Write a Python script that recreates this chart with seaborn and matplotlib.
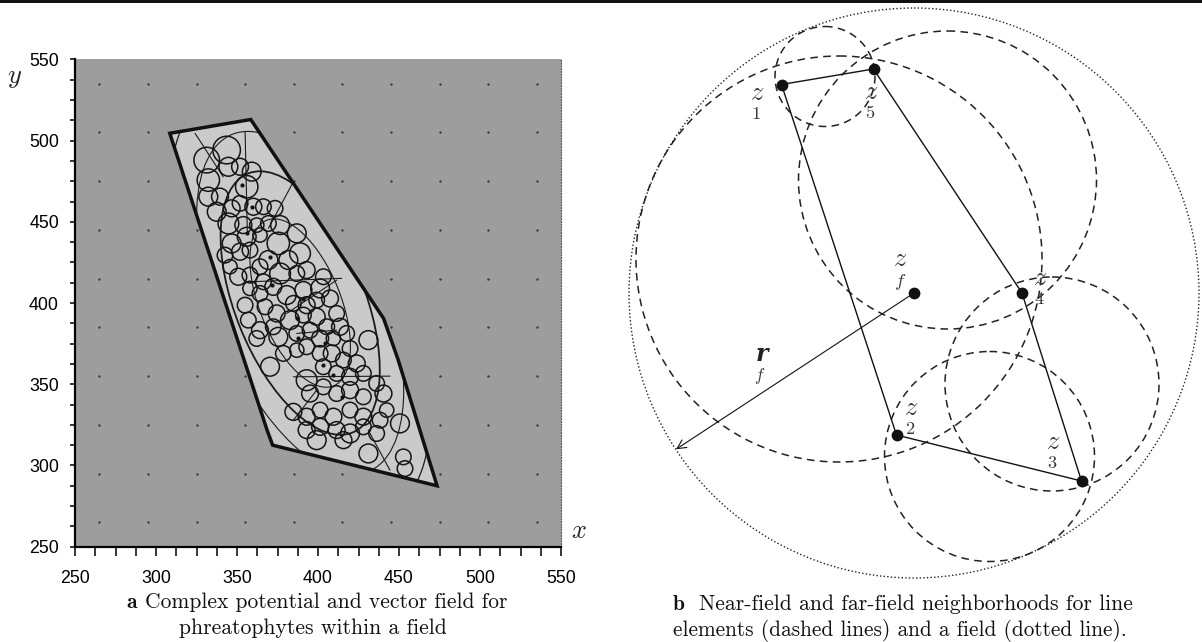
import numpy as np
import pandas as pd
import matplotlib
matplotlib.use("Agg")
import matplotlib.pyplot as plt
import seaborn as sns
from matplotlib.patches import Polygon, Circle, Ellipse, Rectangle
from matplotlib.ticker import MultipleLocator
from matplotlib.mathtext import MathTextParser
from matplotlib.font_manager import FontProperties

# ---------------- panel a data ----------------
x_ticks = [250, 300, 350, 400, 450, 500, 550]
y_ticks = [250, 300, 350, 400, 450, 500, 550]
grid_x = [265, 295, 325, 355, 385, 415, 445, 475, 505, 535]
grid_y = [265, 295, 325, 355, 385, 415, 445, 475, 505, 535]

field_x = [308.5, 358.5, 440.5, 449.5, 473.5, 372.0, 368.5]
field_y = [504.5, 513.0, 390.5, 365.0, 287.5, 312.5, 322.0]

tree_x = [343.6, 331.3, 332.3, 344.7, 351.9, 359.1, 356.0, 332.3, 339.5, 337.5,
          346.7, 351.9, 360.1, 366.3, 373.5, 344.7, 353.9, 362.2, 369.4, 376.6,
          346.7, 356.0, 364.2, 375.5, 386.9, 342.6, 351.9, 358.0, 369.4, 381.7,
          388.9, 345.7, 350.8, 358.0, 364.2, 366.3, 376.6, 386.9, 393.0, 358.0,
          364.2, 372.4, 380.7, 391.0, 401.3, 403.3, 355.0, 367.3, 374.5, 384.8,
          393.0, 399.2, 407.4, 411.5, 357.0, 364.2, 372.4, 382.7, 391.0, 399.2,
          405.4, 413.6, 417.7, 362.2, 375.5, 386.9, 395.1, 401.3, 409.5, 419.8,
          431.1, 370.4, 378.6, 386.9, 393.0, 401.3, 408.5, 415.7, 423.9, 393.0,
          403.3, 411.5, 419.8, 428.0, 436.2, 384.8, 395.1, 403.3, 411.5, 419.8,
          428.0, 440.4, 442.4, 393.0, 401.3, 409.5, 419.8, 428.0, 438.3, 393.0,
          401.3, 411.5, 419.8, 428.0, 399.2, 415.7, 436.2, 450.6, 431.1, 452.7,
          453.7]
tree_y = [494.2, 488.0, 475.7, 483.9, 483.9, 480.9, 471.6, 465.5, 465.5, 456.2,
          458.3, 461.4, 459.3, 459.3, 458.3, 449.0, 448.0, 448.0, 449.0, 448.0,
          436.7, 440.8, 441.9, 436.7, 442.9, 429.5, 431.6, 432.6, 426.5, 426.5,
          430.6, 422.4, 416.2, 417.2, 422.4, 413.1, 418.2, 418.2, 420.3, 409.0,
          405.9, 410.0, 404.9, 408.0, 409.0, 416.2, 398.7, 397.7, 393.6, 399.8,
          398.7, 401.8, 402.8, 393.6, 389.5, 383.3, 385.4, 389.5, 392.6, 391.6,
          385.4, 385.4, 381.3, 378.2, 379.2, 381.3, 383.3, 378.2, 378.2, 372.0,
          377.2, 360.8, 369.0, 371.0, 373.1, 369.0, 369.0, 364.9, 362.8, 352.5,
          360.8, 356.7, 354.6, 356.7, 350.5, 333.0, 344.3, 348.4, 344.3, 346.4,
          342.3, 344.3, 334.1, 330.0, 334.1, 330.0, 334.1, 330.0, 327.9, 321.8,
          323.8, 321.8, 319.7, 323.8, 315.6, 315.6, 319.7, 325.9, 307.4, 305.3,
          298.1]
tree_r = [8.5, 7.9, 6.9, 5.8, 5.2, 5.8, 6.9, 5.8, 5.2, 5.8,
          5.2, 4.8, 5.2, 4.8, 4.8, 6.4, 5.2, 4.4, 4.8, 5.8,
          5.8, 5.8, 4.4, 6.9, 5.8, 4.8, 5.2, 4.8, 5.8, 5.8,
          6.4, 4.4, 5.2, 4.8, 4.8, 4.8, 6.4, 4.8, 5.2, 4.4,
          4.8, 5.2, 5.8, 5.2, 5.8, 4.8, 4.8, 4.8, 5.2, 4.8,
          5.2, 4.8, 5.2, 4.8, 4.8, 5.2, 4.8, 5.8, 4.8, 5.2,
          4.8, 5.2, 4.8, 4.8, 5.8, 4.8, 4.8, 5.2, 4.4, 4.8,
          5.8, 5.8, 4.8, 4.4, 4.8, 4.8, 5.2, 4.8, 5.2, 6.4,
          4.8, 4.8, 5.2, 4.8, 4.8, 5.2, 5.2, 4.8, 4.8, 5.2,
          4.8, 5.2, 4.4, 5.2, 4.8, 5.2, 4.8, 5.2, 4.8, 5.2,
          5.2, 5.2, 5.8, 4.8, 5.8, 5.2, 4.8, 5.8, 5.8, 4.8,
          4.8]

contour_center = (389.0, 400.0)
contour_angle = 112.0
contour_a = [55, 86, 112, 140, 175]
contour_b = [25, 40, 52, 66, 84]
contour_lw = [0.8, 1.3, 0.8, 0.9, 0.8]

stream_x0 = [355.0, 324.1, 369.4, 358.0, 380.7, 384.8, 386.9, 384.8, 431.0]
stream_y0 = [505.5, 504.5, 446.0, 413.1, 393.6, 354.6, 381.3, 327.9, 321.8]
stream_x1 = [356.4, 341.5, 384.8, 414.6, 411.5, 444.5, 411.5, 399.2, 444.4]
stream_y1 = [442.9, 477.7, 474.7, 415.2, 414.1, 355.0, 383.3, 346.4, 297.1]

arrow_x = [352.9, 359.1, 356.0, 370.4, 371.4, 391.0, 386.9, 387.9, 404.3, 403.3, 409.1, 414.6]
arrow_y = [472.6, 459.3, 442.9, 428.5, 411.1, 402.8, 390.5, 378.2, 375.1, 361.8, 355.6, 342.3]

# ---------------- panel b data ----------------
node_names = ["1", "2", "3", "4", "5"]
node_x = [781.5, 896.5, 1081.5, 1022.0, 873.5]
node_y = [84.5, 435.0, 481.0, 293.0, 69.0]
node_lbl_x = [757.0, 911.0, 1053.5, 1040.0, 871.0]
node_lbl_y = [97.0, 411.5, 445.0, 281.5, 96.0]
node_sub_dy = [14.0, 15.0, 15.0, 16.0, 14.0]

zf_x, zf_y = 914.0, 293.0
zf_lbl = (900.5, 265.5)
rf_tip = (676.0, 449.3)
rf_lbl = (762.0, 355.0)

near_cx = [825.0, 839.0, 947.5, 1052.0, 989.5]
near_cy = [76.5, 259.0, 180.0, 384.0, 456.5]
near_r = [50.0, 203.0, 149.0, 107.0, 105.0]
far_r = 285.0

# ---------------- figure ----------------
W, H = 1202, 642
sns.set_theme(style="white")
plt.rcParams['font.family'] = ['Liberation Sans', 'DejaVu Sans']
plt.rcParams['mathtext.fontset'] = 'cm'
fig = plt.figure(figsize=(W / 100, H / 100), dpi=100)
fig.patch.set_facecolor("white")

def fx(px):
    return px / W

def fy(py):
    return 1 - py / H

# top rule
fig.add_artist(Rectangle((0, fy(3.2)), 1, 3.2 / H, transform=fig.transFigure,
                         color="#111111", lw=0))

# ---- panel a ----
ax1 = fig.add_axes([fx(75), fy(546.7), 486 / W, 487.3 / H])
ax1.set_facecolor("#9d9d9d")
ax1.set_xlim(250, 550)
ax1.set_ylim(250, 550)

gx, gy = np.meshgrid(grid_x, grid_y)
sns.scatterplot(x=gx.ravel(), y=gy.ravel(), ax=ax1, color="#3a3a3a", s=3,
                linewidth=0, zorder=1, legend=False)

poly_pts = np.column_stack([field_x, field_y])
fill = Polygon(poly_pts, closed=True, facecolor="#cacaca", edgecolor="none", zorder=2)
ax1.add_patch(fill)

for a, b, lw in zip(contour_a, contour_b, contour_lw):
    e = Ellipse(contour_center, 2 * a, 2 * b, angle=contour_angle, fill=False,
                edgecolor="#1c1c1c", lw=lw, zorder=3)
    ax1.add_patch(e)
    e.set_clip_path(fill)

for x0, y0, x1, y1 in zip(stream_x0, stream_y0, stream_x1, stream_y1):
    ln, = ax1.plot([x0, x1], [y0, y1], color="#1c1c1c", lw=0.8, zorder=3)
    ln.set_clip_path(fill)

for cx, cy, r in zip(tree_x, tree_y, tree_r):
    ax1.add_patch(Circle((cx, cy), r, fill=False, edgecolor="#151515", lw=1.1, zorder=4))

sns.scatterplot(x=arrow_x, y=arrow_y, ax=ax1, color="#111111", s=9, marker="o",
                linewidth=0, zorder=5, legend=False)

border = Polygon(poly_pts, closed=True, facecolor="none", edgecolor="#111111",
                 lw=2.5, joinstyle="miter", zorder=6)
ax1.add_patch(border)

ax1.set_xticks(x_ticks)
ax1.set_yticks(y_ticks)
ax1.xaxis.set_minor_locator(MultipleLocator(12.5))
ax1.yaxis.set_minor_locator(MultipleLocator(12.5))
ax1.tick_params(axis="x", which="both", bottom=True, direction="out", length=6.5,
                width=1.1, color="black", pad=10.5, labelsize=12.8, labelcolor="black")
ax1.tick_params(axis="y", which="both", left=True, direction="out", length=3.6,
                width=1.1, color="black", pad=8, labelsize=12.8, labelcolor="black")
for s in ["left", "bottom"]:
    ax1.spines[s].set_color("black")
    ax1.spines[s].set_linewidth(1.6)
ax1.spines["top"].set_visible(False)
ax1.spines["right"].set_visible(True)
ax1.spines["right"].set_color("#555555")
ax1.spines["right"].set_linewidth(0.8)
ax1.spines["right"].set_linestyle((0, (1, 1.5)))
ax1.set_xlabel("")
ax1.set_ylabel("")

fig.text(fx(14.5), fy(77.8), "$y$", fontsize=19, ha="center", va="center")
fig.text(fx(578.6), fy(531.5), "$x$", fontsize=19, ha="center", va="center")

# ---- panel b ----
ax2 = fig.add_axes([fx(600), 0, 602 / W, 1])
ax2.set_xlim(600, 1202)
ax2.set_ylim(642, 0)
ax2.axis("off")
ax2.patch.set_visible(False)

for cx, cy, r in zip(near_cx, near_cy, near_r):
    ax2.add_patch(Circle((cx, cy), r, fill=False, edgecolor="#222222", lw=1.1,
                         linestyle=(0, (5, 3.5)), zorder=2))
ax2.add_patch(Circle((zf_x, zf_y), far_r, fill=False, edgecolor="#222222", lw=1.0,
                     linestyle=(0, (1, 1.6)), zorder=2))

order_x = [node_x[0], node_x[1], node_x[2], node_x[3], node_x[4], node_x[0]]
order_y = [node_y[0], node_y[1], node_y[2], node_y[3], node_y[4], node_y[0]]
sns.lineplot(x=order_x, y=order_y, sort=False, estimator=None, ax=ax2,
             color="#111111", lw=1.0, zorder=3)

ax2.annotate("", xy=rf_tip, xytext=(zf_x, zf_y),
             arrowprops=dict(arrowstyle="->", lw=0.8, color="#111111",
                             mutation_scale=16, shrinkA=0, shrinkB=0), zorder=3)

sns.scatterplot(x=node_x + [zf_x], y=node_y + [zf_y], ax=ax2, color="#111111",
                s=72, linewidth=0, zorder=5, legend=False)

lab_col = "#3a3a3a"
_parser = MathTextParser("path")

def stacked_ok(s):
    try:
        _parser.parse(s, 72, FontProperties(size=19))
        return True
    except Exception:
        return False

def stacked_label(lx, ly, dy, sub):
    s = r"$\genfrac{}{}{0}{0}{z}{{}_{%s}}$" % sub
    if stacked_ok(s):
        ax2.text(lx, ly + dy / 2.0, s, fontsize=19, color=lab_col,
                 ha="center", va="center")
    else:
        ax2.text(lx, ly - 1, "$z$", fontsize=19, color=lab_col, ha="center", va="center")
        ax2.text(lx - 1, ly + dy + 2, "$" + sub + "$", fontsize=12, color=lab_col,
                 ha="center", va="center")

for nm, lx, ly, dy in zip(node_names, node_lbl_x, node_lbl_y, node_sub_dy):
    stacked_label(lx, ly, dy, nm)
stacked_label(zf_lbl[0], zf_lbl[1], 16.5, "f")

ax2.text(rf_lbl[0], rf_lbl[1] - 1, "r", family="DejaVu Serif", fontsize=17,
         fontweight="bold", style="italic", color="#222222", ha="center", va="center")
ax2.text(rf_lbl[0] - 2, rf_lbl[1] + 21, "$f$", fontsize=12.5, color=lab_col,
         ha="center", va="center")

# ---- captions ----
renderer = fig.canvas.get_renderer()

def fitted(px, py, s, family, target_w, size0=14, ha="left"):
    t = fig.text(fx(px), fy(py), s, family=family, fontsize=size0, ha=ha, va="center",
                 color="#111111")
    w = t.get_window_extent(renderer).width
    t.set_fontsize(size0 * target_w / w)
    return t

fig.text(fx(126), fy(602), "a", family="cmb10", fontsize=15.5, ha="left", va="center",
         color="#111111")
fitted(145.4, 602, "Complex potential and vector field for", "cmr10", 359.6)
fitted(313, 628.6, "phreatophytes within a field", "cmr10", 266, ha="center")

fig.text(fx(672.9), fy(604), "b", family="cmb10", fontsize=15.5, ha="left", va="center",
         color="#111111")
fitted(699, 604, "Near-field and far-field neighborhoods for line", "cmr10", 430.8)
fitted(672.9, 630.6, "elements (dashed lines) and a field (dotted line).", "cmr10", 451)

fig.savefig("out.png", dpi=100)
